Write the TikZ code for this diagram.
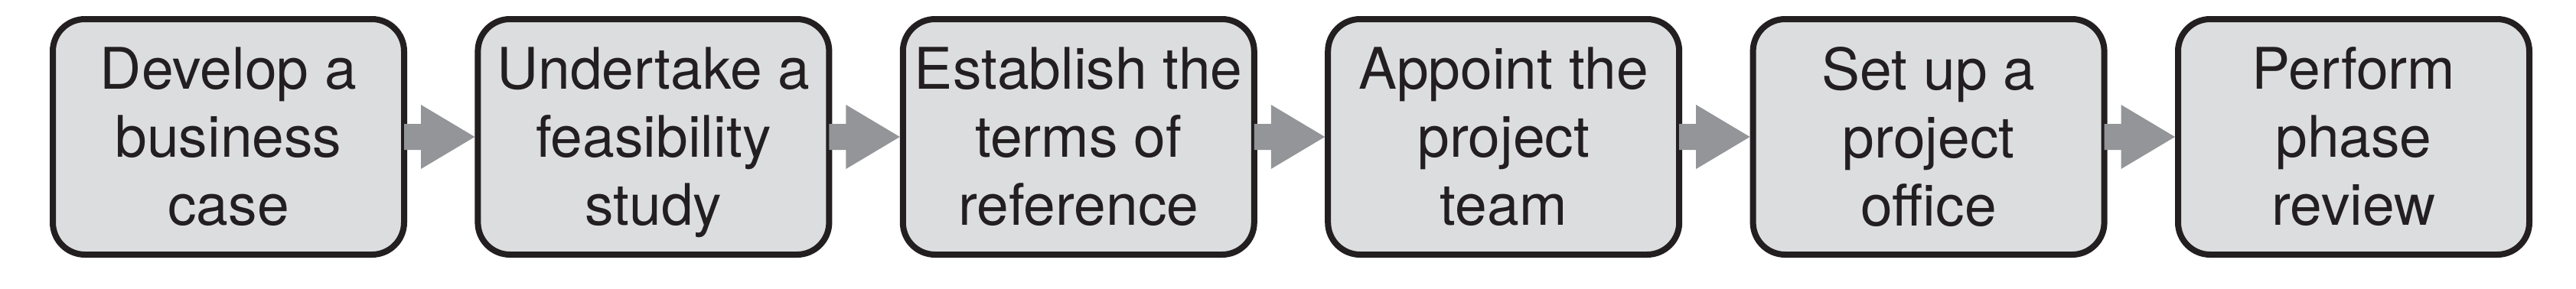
\documentclass[tikz,border=0pt]{standalone}
\usepackage{fontspec}
\setmainfont{TeX Gyre Heros}
\usetikzlibrary{calc}
\definecolor{boxfill}{HTML}{DCDDDF}
\definecolor{boxline}{HTML}{231F20}
\definecolor{arrgray}{HTML}{939598}
\tikzset{
  stagebox/.style={draw=boxline, fill=boxfill, line width=2pt, rounded corners=10.5pt,
    minimum width=114.75pt, minimum height=77pt, inner sep=0pt, align=center,
    text=boxline, font=\fontsize{18.75pt}{22.25pt}\selectfont},
  flowarrow/.style={fill=arrgray}
}
\newcommand{\flowarr}[2]{%
  \fill[flowarrow] ($(#1.east)+(-1pt,4.25pt)$) -- ($(#1.east)+(4.5pt,4.25pt)$) -- ($(#1.east)+(4.5pt,10.5pt)$) -- (#2.west) -- ($(#1.east)+(4.5pt,-10.5pt)$) -- ($(#1.east)+(4.5pt,-4.25pt)$) -- ($(#1.east)+(-1pt,-4.25pt)$) -- cycle;}
\begin{document}
\begin{tikzpicture}
\useasboundingbox (0,0) rectangle (841.5pt,94.25pt);
\node[stagebox] (s1) at (74.625pt,49.5pt) {Develop a\\business\\case};
\node[stagebox] (s2) at (213.475pt,49.5pt) {Undertake a\\feasibility\\stud\smash{y}};
\node[stagebox] (s3) at (352.325pt,49.5pt) {Establish the\\terms of\\reference};
\node[stagebox] (s4) at (491.175pt,49.5pt) {Appoint the\\project\\team};
\node[stagebox] (s5) at (630.025pt,49.5pt) {Set up a\\project\\office};
\node[stagebox] (s6) at (768.875pt,49.5pt) {Perform\\phase\\review};
\flowarr{s1}{s2}
\flowarr{s2}{s3}
\flowarr{s3}{s4}
\flowarr{s4}{s5}
\flowarr{s5}{s6}
\end{tikzpicture}
\end{document}
